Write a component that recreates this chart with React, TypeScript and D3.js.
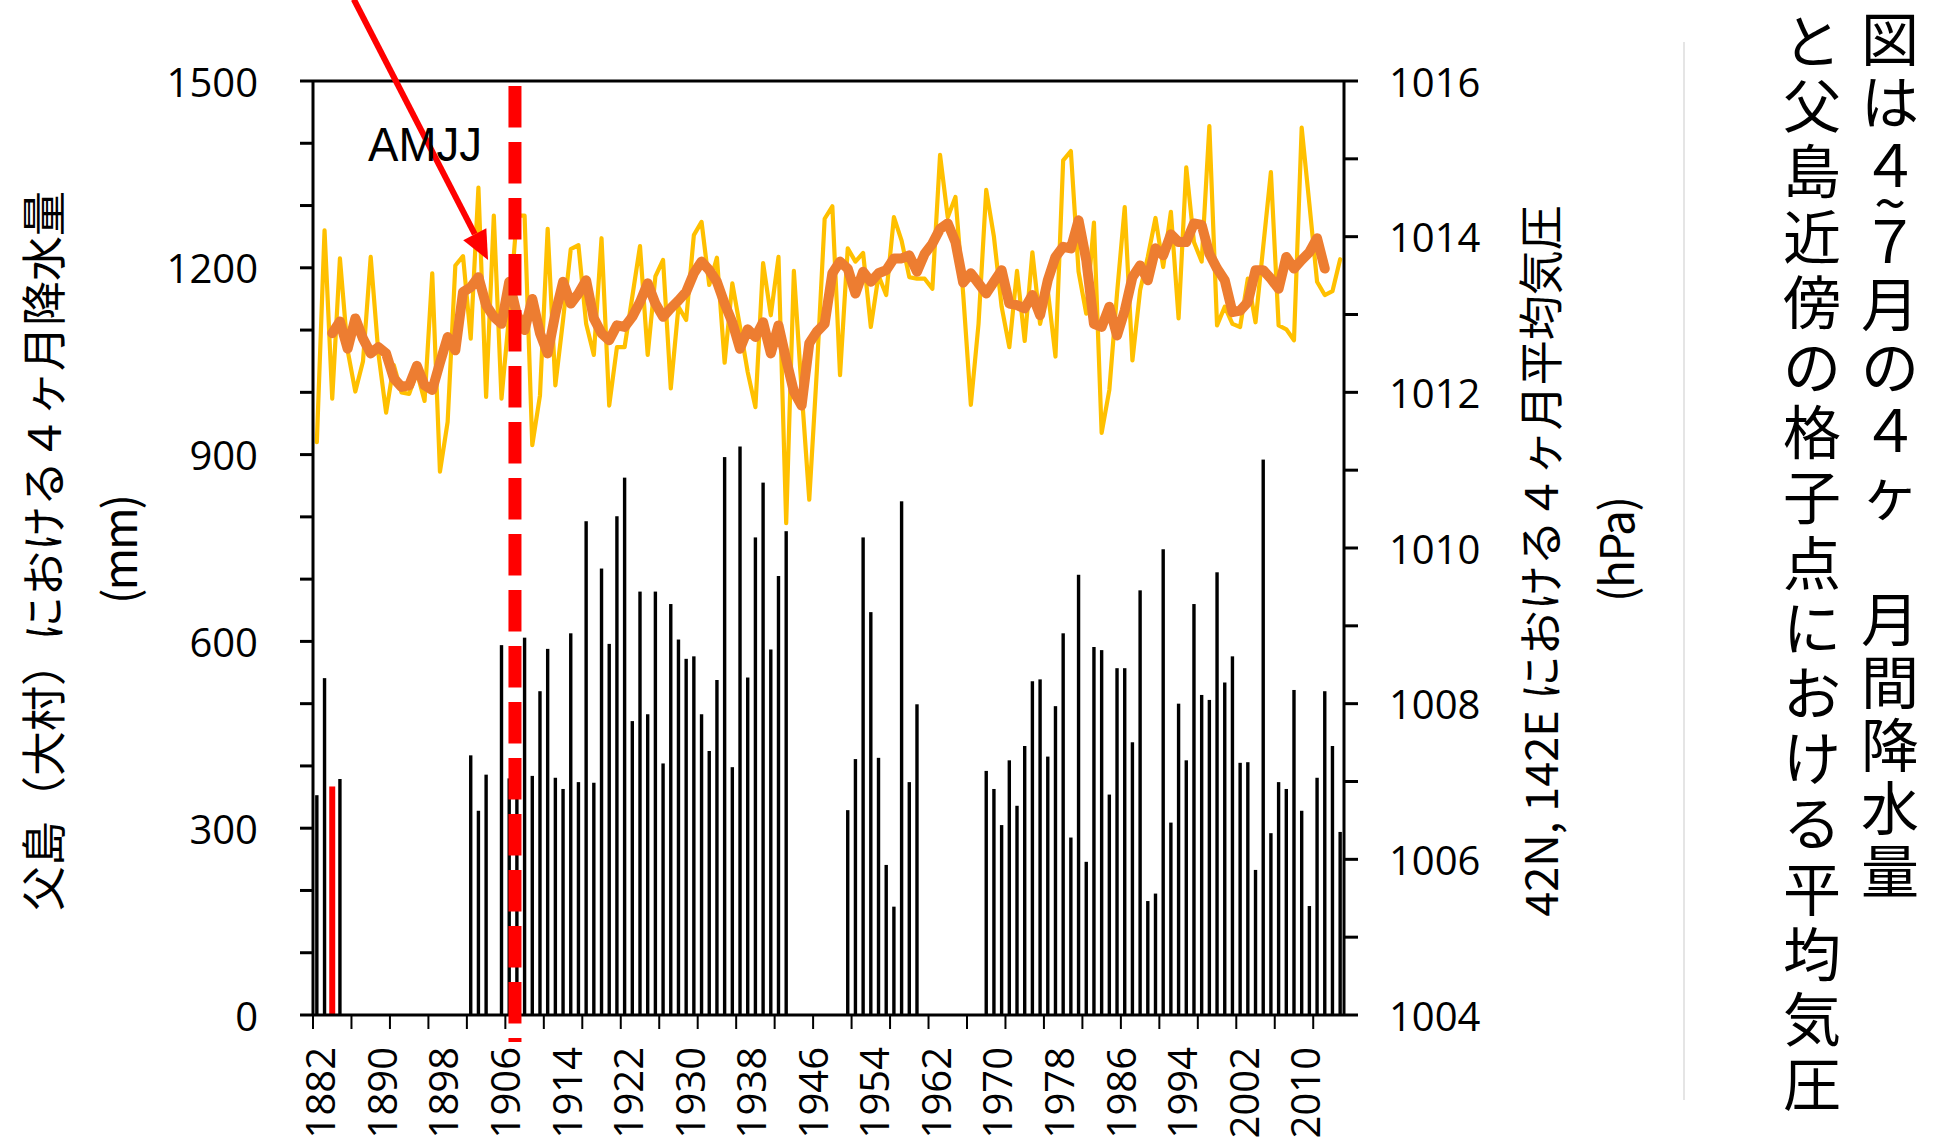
import React from 'react';
import * as d3 from 'd3';

// ---------- DATA ----------
const firstYear = 1882;
const lastYear = 2015;
const years: number[] = d3.range(firstYear, lastYear + 1);

// Chichijima (Omura) Apr-Jul precipitation, mm (null = missing)
const rainfall: (number | null)[] = [
  353, 541, 367, 379, null, null, null, null, null, null, // 1882-1891
  null, null, null, null, null, null, null, null, null, null, // 1892-1901
  417, 328, 386, null, 594, 380, 360, 606, 384, 520, // 1902-1911
  588, 381, 363, 613, 374, 793, 373, 717, 596, 801, // 1912-1921
  863, 472, 680, 483, 680, 404, 660, 603, 572, 576, // 1922-1931
  483, 424, 538, 896, 398, 913, 542, 767, 855, 587, // 1932-1941
  705, 777, null, null, null, null, null, null, null, 329, // 1942-1951
  411, 767, 647, 413, 241, 174, 825, 374, 499, null, // 1952-1961
  null, null, null, null, null, null, null, 392, 363, 305, // 1962-1971
  409, 336, 432, 536, 539, 415, 496, 613, 285, 707, // 1972-1981
  246, 591, 586, 354, 557, 557, 438, 682, 183, 195, // 1982-1991
  748, 309, 500, 409, 660, 514, 506, 711, 534, 576, // 1992-2001
  405, 406, 233, 892, 292, 374, 363, 522, 328, 175, // 2002-2011
  381, 520, 432, 294, // 2012-2015
];
const highlightYear = 1884;

// 42N,142E Apr-Jul mean sea level pressure, hPa
const pressure: number[] = [
  1011.36, 1014.08, 1011.92, 1013.72, 1012.54, 1012.01, 1012.4, 1013.74, 1012.5, 1011.74, // 1882-1891
  1012.35, 1012.0, 1011.98, 1012.26, 1011.89, 1013.53, 1010.98, 1011.62, 1013.63, 1013.75, // 1892-1901
  1012.69, 1014.63, 1011.94, 1014.27, 1011.92, 1013.0, 1014.27, 1014.27, 1011.32, 1011.96, // 1902-1911
  1014.1, 1012.09, 1012.93, 1013.84, 1013.89, 1012.88, 1012.48, 1013.98, 1011.83, 1012.58, // 1912-1921
  1012.58, 1013.23, 1013.88, 1012.48, 1013.49, 1013.7, 1012.05, 1013.1, 1012.93, 1014.02, // 1922-1931
  1014.19, 1013.38, 1013.73, 1012.38, 1013.4, 1012.84, 1012.26, 1011.81, 1013.66, 1012.99, // 1932-1941
  1013.74, 1010.32, 1013.56, 1012.03, 1010.62, 1012.3, 1014.23, 1014.39, 1012.22, 1013.85, // 1942-1951
  1013.68, 1013.79, 1012.84, 1013.5, 1013.25, 1014.25, 1013.95, 1013.48, 1013.46, 1013.46, // 1952-1961
  1013.33, 1015.05, 1014.25, 1014.51, 1013.27, 1011.84, 1012.88, 1014.6, 1014.0, 1013.1, // 1962-1971
  1012.58, 1013.56, 1012.66, 1013.8, 1012.88, 1013.31, 1012.46, 1014.98, 1015.1, 1013.55, // 1972-1981
  1013.01, 1014.18, 1011.48, 1012.03, 1013.27, 1014.38, 1012.41, 1013.31, 1013.74, 1014.24, // 1982-1991
  1013.61, 1014.32, 1012.95, 1014.89, 1013.93, 1013.68, 1015.42, 1012.86, 1013.1, 1012.88, // 1992-2001
  1012.84, 1013.46, 1012.9, 1013.87, 1014.83, 1012.86, 1012.81, 1012.67, 1015.4, 1014.42, // 2002-2011
  1013.42, 1013.25, 1013.3, 1013.71, // 2012-2015
];

// 5-year running mean of pressure, hPa
const pressureMA: (number | null)[] = [
  null, null, 1012.76, 1012.91, 1012.56, 1012.95, 1012.69, 1012.5, 1012.58, 1012.5, // 1882-1891
  1012.18, 1012.07, 1012.09, 1012.34, 1012.09, 1012.03, 1012.38, 1012.71, 1012.54, 1013.29, // 1892-1901
  1013.35, 1013.48, 1013.12, 1012.97, 1012.88, 1013.42, 1013.0, 1012.8, 1013.2, 1012.76, // 1902-1911
  1012.5, 1013.01, 1013.42, 1013.14, 1013.27, 1013.44, 1012.95, 1012.76, 1012.67, 1012.86, // 1912-1921
  1012.84, 1012.97, 1013.16, 1013.4, 1013.14, 1012.97, 1013.08, 1013.18, 1013.29, 1013.53, // 1922-1931
  1013.68, 1013.57, 1013.42, 1013.14, 1012.9, 1012.56, 1012.81, 1012.71, 1012.9, 1012.5, // 1932-1941
  1012.86, 1012.42, 1012.01, 1011.83, 1012.63, 1012.78, 1012.88, 1013.53, 1013.68, 1013.59, // 1942-1951
  1013.27, 1013.55, 1013.42, 1013.53, 1013.57, 1013.72, 1013.72, 1013.76, 1013.55, 1013.78, // 1952-1961
  1013.91, 1014.1, 1014.17, 1013.93, 1013.41, 1013.53, 1013.4, 1013.27, 1013.42, 1013.57, // 1962-1971
  1013.14, 1013.12, 1013.08, 1013.25, 1012.99, 1013.44, 1013.74, 1013.87, 1013.85, 1014.21, // 1972-1981
  1013.7, 1012.88, 1012.84, 1013.1, 1012.73, 1013.05, 1013.48, 1013.63, 1013.44, 1013.85, // 1982-1991
  1013.76, 1014.03, 1013.93, 1013.93, 1014.17, 1014.15, 1013.78, 1013.59, 1013.44, 1013.03, // 1992-2001
  1013.05, 1013.16, 1013.57, 1013.57, 1013.46, 1013.33, 1013.74, 1013.59, 1013.7, 1013.8, // 2002-2011
  1013.98, 1013.59, null, null, // 2012-2015
];

const xLabelYears = [1882, 1890, 1898, 1906, 1914, 1922, 1930, 1938, 1946, 1954, 1962, 1970, 1978, 1986, 1994, 2002, 2010];
const xTickEvery = 5;
const leftTickLabels = [0, 300, 600, 900, 1200, 1500];
const leftMinorStep = 100;
const rightTickLabels = [1004, 1006, 1008, 1010, 1012, 1014, 1016];
const rightMinorStep = 1;

const markerYear = 1907.75; // red dashed line
const arrowFrom = { year: 1886.8, hPa: 1017.05 };
const arrowTo = { year: 1904.25, hPa: 1013.7 };

const leftTitle = '父島（大村）における４ヶ月降水量';
const leftUnit = '(mm)';
const rightTitle = '42N, 142E における４ヶ月平均気圧';
const rightUnit = '(hPa)';
const annotation = 'AMJJ';
const captionCol1 = '図は４~７月の４ヶ　月間降水量';
const captionCol2 = 'と父島近傍の格子点における平均気圧';

// ---------- LAYOUT ----------
const W = 1937;
const H = 1141;
const L = 313;
const R = 1344;
const T = 81;
const B = 1015;

const NUM_FONT = "'Open Sans', 'Liberation Sans', sans-serif";
const JP_FONT = "'Noto Sans CJK JP', 'Noto Sans', sans-serif";

// vertical column layout: half-advance of each glyph in units of the pitch
const halfAdv = (ch: string) => (ch === '~' ? 0.1 : 0.5);
function columnPositions(text: string, start: number, pitch: number) {
  const chars = Array.from(text);
  const out: { ch: string; y: number }[] = [];
  let pos = 0;
  chars.forEach((ch, i) => {
    if (i > 0) pos += halfAdv(chars[i - 1]) + halfAdv(ch);
    out.push({ ch, y: start + pos * pitch });
  });
  return out.filter((d) => d.ch !== '　');
}

export default function App() {
  const x = d3.scaleBand<number>().domain(years).range([L, R]).paddingInner(0).paddingOuter(0);
  const bw = x.bandwidth();
  const xc = (y: number) => (x(y) as number) + bw / 2;
  const yearX = d3.scaleLinear().domain([firstYear - 0.5, lastYear + 0.5]).range([L, R]);
  const yL = d3.scaleLinear().domain([0, 1500]).range([B, T]);
  const yR = d3.scaleLinear().domain([1004, 1016]).range([B, T]);

  const lineGen = d3
    .line<number | null>()
    .defined((d) => d != null)
    .x((_, i) => xc(years[i]))
    .y((d) => yR(d as number));

  const leftMinor = d3.range(0, 1500 + 1, leftMinorStep);
  const rightMinor = d3.range(1004, 1016 + 0.001, rightMinorStep);
  const xTicks = d3.range(0, years.length, xTickEvery).map((i) => x(years[i]) as number);

  // arrow
  const ax1 = yearX(arrowFrom.year), ay1 = yR(arrowFrom.hPa);
  const ax2 = yearX(arrowTo.year), ay2 = yR(arrowTo.hPa);
  const len = Math.hypot(ax2 - ax1, ay2 - ay1);
  const ux = (ax2 - ax1) / len, uy = (ay2 - ay1) / len;
  const headLen = 29, headW = 13;
  const bx = ax2 - ux * headLen, by = ay2 - uy * headLen;
  const head = `M${ax2},${ay2} L${bx - uy * headW},${by + ux * headW} L${bx + uy * headW},${by - ux * headW} Z`;

  const col1 = columnPositions(captionCol1, 36, 63.0);
  const col2 = columnPositions(captionCol2, 38, 65.2);

  return (
    <svg width={W} height={H} style={{ position: 'absolute', left: 0, top: 0, background: '#fff' }}>
      <rect x={0} y={0} width={W} height={H} fill="#fff" />

      {/* bars */}
      {rainfall.map((v, i) =>
        v == null ? null : (
          <rect
            key={'b' + i}
            x={xc(years[i]) - (years[i] === highlightYear ? 3 : 1.7)}
            y={yL(v)}
            width={years[i] === highlightYear ? 6 : 3.4}
            height={yL(0) - yL(v)}
            fill={years[i] === highlightYear ? '#FF0000' : '#000'}
          />
        )
      )}

      {/* pressure lines */}
      <path d={lineGen(pressure) || ''} fill="none" stroke="#FFC000" strokeWidth={4.2} strokeLinejoin="round" strokeLinecap="round" />
      <path d={lineGen(pressureMA) || ''} fill="none" stroke="#ED7D31" strokeWidth={10} strokeLinejoin="round" strokeLinecap="round" />

      {/* axes frame */}
      <line x1={L} x2={L} y1={T} y2={B} stroke="#000" strokeWidth={3} />
      <line x1={R} x2={R} y1={T} y2={B} stroke="#000" strokeWidth={3} />
      <line x1={L} x2={R} y1={T} y2={T} stroke="#000" strokeWidth={3} />
      <line x1={L} x2={R} y1={B} y2={B} stroke="#000" strokeWidth={3} />

      {/* left ticks */}
      {leftMinor.map((v) => (
        <line key={'lt' + v} x1={L - 13} x2={L} y1={yL(v)} y2={yL(v)} stroke="#000" strokeWidth={3} />
      ))}
      {leftTickLabels.map((v) => (
        <text key={'ll' + v} x={258} y={yL(v)} textAnchor="end" dominantBaseline="central" fontFamily={NUM_FONT} fontSize={40} fill="#000">
          {v}
        </text>
      ))}

      {/* right ticks */}
      {rightMinor.map((v) => (
        <line key={'rt' + v} x1={R} x2={R + 14} y1={yR(v)} y2={yR(v)} stroke="#000" strokeWidth={3} />
      ))}
      {rightTickLabels.map((v) => (
        <text key={'rl' + v} x={1389} y={yR(v)} textAnchor="start" dominantBaseline="central" fontFamily={NUM_FONT} fontSize={40} fill="#000">
          {v}
        </text>
      ))}

      {/* x ticks & labels */}
      {xTicks.map((px, i) => (
        <line key={'xt' + i} x1={px} x2={px} y1={B} y2={B + 14} stroke="#000" strokeWidth={2} />
      ))}
      {xLabelYears.map((yr) => (
        <text
          key={'xl' + yr}
          transform={`translate(${xc(yr) + 3},${1047}) rotate(-90)`}
          textAnchor="end"
          dominantBaseline="central"
          fontFamily={NUM_FONT}
          fontSize={40}
          fill="#000"
        >
          {yr}
        </text>
      ))}

      {/* red dashed marker */}
      <line
        x1={yearX(markerYear)}
        x2={yearX(markerYear)}
        y1={86}
        y2={1042}
        stroke="#FF0000"
        strokeWidth={13}
        strokeDasharray="41.5 14.5"
      />

      {/* arrow */}
      <line x1={ax1} y1={ay1} x2={bx} y2={by} stroke="#FF0000" strokeWidth={6} />
      <path d={head} fill="#FF0000" />

      {/* AMJJ */}
      <text x={368} y={161} fontFamily="'Liberation Sans', Arial, sans-serif" fontSize={48} textLength={114} lengthAdjust="spacingAndGlyphs" fill="#000">
        {annotation}
      </text>

      {/* axis titles */}
      <text transform={`translate(41,551) rotate(-90)`} textAnchor="middle" dominantBaseline="central" fontFamily={JP_FONT} fontSize={45} fill="#000">
        {leftTitle}
      </text>
      <text transform={`translate(117,549) rotate(-90)`} textAnchor="middle" dominantBaseline="central" fontFamily={JP_FONT} fontSize={46} textLength={110} lengthAdjust="spacing" fill="#000">
        {leftUnit}
      </text>
      <text transform={`translate(1538,561) rotate(-90)`} textAnchor="middle" dominantBaseline="central" fontFamily={JP_FONT} fontSize={45} fill="#000">
        {rightTitle}
      </text>
      <text transform={`translate(1614,549) rotate(-90)`} textAnchor="middle" dominantBaseline="central" fontFamily={JP_FONT} fontSize={46} textLength={106} lengthAdjust="spacing" fill="#000">
        {rightUnit}
      </text>

      {/* separator line */}
      <line x1={1684} x2={1684} y1={42} y2={1100} stroke="#dcdcdc" strokeWidth={1.5} />

      {/* vertical caption */}
      <text textAnchor="middle" dominantBaseline="central" fontFamily={JP_FONT} fontSize={58} fill="#000">
        {col1.map((d, i) => (
          <tspan key={'c1' + i} x={1890} y={d.y}>
            {d.ch}
          </tspan>
        ))}
      </text>
      <text textAnchor="middle" dominantBaseline="central" fontFamily={JP_FONT} fontSize={58} fill="#000">
        {col2.map((d, i) => (
          <tspan key={'c2' + i} x={1812} y={d.y}>
            {d.ch}
          </tspan>
        ))}
      </text>
    </svg>
  );
}
